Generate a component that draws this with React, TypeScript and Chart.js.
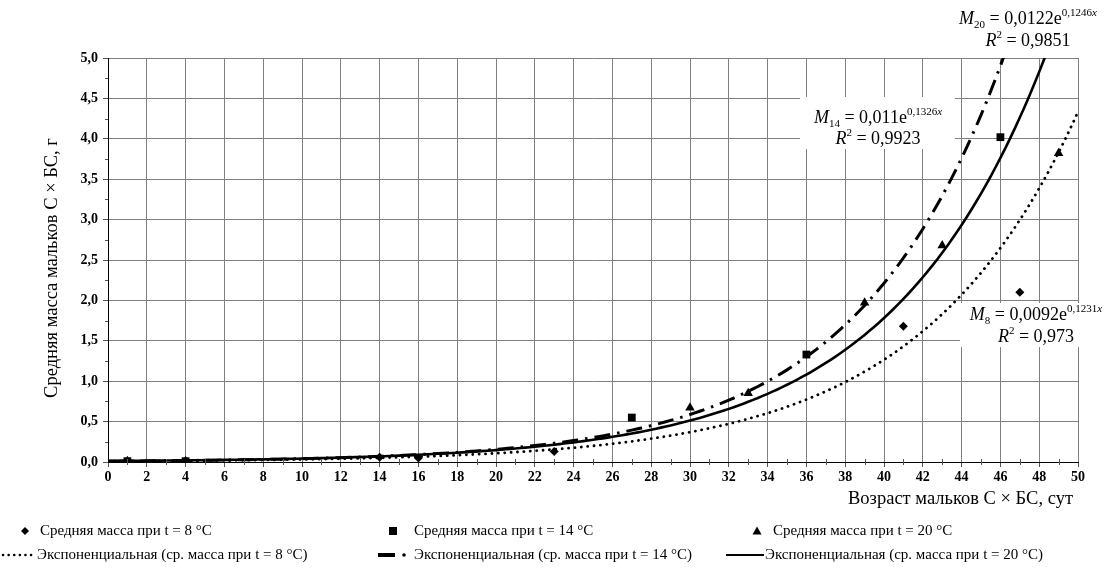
import React, { useEffect, useRef } from 'react';
import { Chart, registerables } from 'chart.js';

Chart.register(...registerables);

// ---- data ----
const ages8 = [1, 4, 14, 16, 23, 41, 47];
const mass8 = [0.01, 0.01, 0.06, 0.05, 0.13, 1.68, 2.1];
const ages14 = [1, 4, 27, 36, 46];
const mass14 = [0.01, 0.01, 0.55, 1.33, 4.02];
const ages20 = [1, 4, 30, 33, 39, 43, 49];
const mass20 = [0.01, 0.01, 0.67, 0.85, 1.97, 2.68, 3.82];

// exponential trendline coefficients shown on the chart (M = a·e^(b·x))
const trendA = [0.0092, 0.011, 0.0122];
const trendB = [0.1231, 0.1326, 0.1246];
const trendAText = ['0,0092', '0,011', '0,0122'];
const trendBText = ['0,1231', '0,1326', '0,1246'];
const trendR2Text = ['0,973', '0,9923', '0,9851'];
const trendSub = ['8', '14', '20'];

const legendPointLabels = [
  'Средняя масса при t = 8 °C',
  'Средняя масса при t = 14 °C',
  'Средняя масса при t = 20 °C',
];
const legendTrendLabels = [
  'Экспоненциальная (ср. масса при t = 8 °C)',
  'Экспоненциальная (ср. масса при t = 14 °C)',
  'Экспоненциальная (ср. масса при t = 20 °C)',
];
const xTitle = 'Возраст мальков С × БС, сут';
const yTitle = 'Средняя масса мальков С × БС, г';

const X_MIN = 0, X_MAX = 50, Y_MIN = 0, Y_MAX = 5;
const FAM = '"Liberation Serif", "Times New Roman", serif';

function pts(xs: number[], ys: number[]) {
  return xs.map((x, i) => ({ x, y: ys[i] }));
}
function trend(i: number) {
  const out: { x: number; y: number }[] = [];
  for (let k = 0; k <= 200; k++) {
    const x = X_MIN + (k * (X_MAX - X_MIN)) / 200;
    const y = trendA[i] * Math.exp(trendB[i] * x);
    out.push({ x, y });
    if (y > Y_MAX * 1.08) break;
  }
  return out;
}

type Part = { t: string; it?: boolean; sub?: boolean; sup?: boolean };
function drawEq(ctx: CanvasRenderingContext2D, cx: number, cy: number, parts: Part[], size: number) {
  const small = Math.round(size * 0.6);
  const fontOf = (p: Part) => `${p.it ? 'italic ' : ''}${p.sub || p.sup ? small : size}px ${FAM}`;
  let w = 0;
  for (const p of parts) {
    ctx.font = fontOf(p);
    w += ctx.measureText(p.t).width;
  }
  let x = cx - w / 2;
  const base = cy + size * 0.33;
  ctx.textAlign = 'left';
  ctx.textBaseline = 'alphabetic';
  ctx.fillStyle = '#000';
  for (const p of parts) {
    ctx.font = fontOf(p);
    const dy = p.sub ? size * 0.22 : p.sup ? -size * 0.42 : 0;
    ctx.fillText(p.t, x, base + dy);
    x += ctx.measureText(p.t).width;
  }
}
function eqParts(i: number): Part[][] {
  return [
    [
      { t: 'M', it: true },
      { t: trendSub[i], sub: true },
      { t: ' = ' + trendAText[i] + 'e' },
      { t: trendBText[i], sup: true },
      { t: 'x', sup: true, it: true },
    ],
    [{ t: 'R', it: true }, { t: '2', sup: true }, { t: ' = ' + trendR2Text[i] }],
  ];
}

const decorPlugin = {
  id: 'decor',
  beforeDatasetsDraw(chart: any) {
    const ctx = chart.ctx as CanvasRenderingContext2D;
    ctx.save();
    ctx.fillStyle = '#fff';
    // white label boxes (M14, M8)
    ctx.fillRect(800, 97, 155, 52);
    ctx.fillRect(960, 303, 150, 44);
    ctx.restore();
  },
  afterDraw(chart: any) {
    const ctx = chart.ctx as CanvasRenderingContext2D;
    const { left, bottom } = chart.chartArea;
    const xs = chart.scales.x, ys = chart.scales.y;
    ctx.save();
    // minor ticks
    ctx.strokeStyle = '#555';
    ctx.lineWidth = 1;
    ctx.beginPath();
    for (let v = X_MIN + 1; v < X_MAX; v += 2) {
      const px = Math.round(xs.getPixelForValue(v)) + 0.5;
      ctx.moveTo(px, bottom - 3);
      ctx.lineTo(px, bottom + 3);
    }
    for (let v = Y_MIN + 0.25; v < Y_MAX; v += 0.5) {
      const py = Math.round(ys.getPixelForValue(v)) + 0.5;
      ctx.moveTo(left - 3, py);
      ctx.lineTo(left, py);
    }
    ctx.stroke();

    // axis titles
    ctx.fillStyle = '#000';
    ctx.font = `18.5px ${FAM}`;
    ctx.textAlign = 'right';
    ctx.textBaseline = 'middle';
    ctx.fillText(xTitle, 1073, 499);
    ctx.save();
    ctx.translate(52, 268);
    ctx.rotate(-Math.PI / 2);
    ctx.textAlign = 'center';
    ctx.fillText(yTitle, 0, 0);
    ctx.restore();

    // equations
    const e20 = eqParts(2), e14 = eqParts(1), e8 = eqParts(0);
    drawEq(ctx, 1028, 18, e20[0], 18);
    drawEq(ctx, 1028, 40, e20[1], 18);
    drawEq(ctx, 878, 117, e14[0], 18);
    drawEq(ctx, 878, 138, e14[1], 18);
    drawEq(ctx, 1036, 314, e8[0], 18);
    drawEq(ctx, 1036, 336, e8[1], 18);

    // legend
    const r1 = 531, r2 = 555;
    ctx.font = `15px ${FAM}`;
    ctx.textAlign = 'left';
    ctx.textBaseline = 'middle';
    ctx.fillStyle = '#000';
    // row 1 markers
    ctx.beginPath();
    ctx.moveTo(25, r1 - 4); ctx.lineTo(29, r1); ctx.lineTo(25, r1 + 4); ctx.lineTo(21, r1); ctx.closePath();
    ctx.fill();
    ctx.fillRect(389, r1 - 4, 8, 8);
    ctx.beginPath();
    ctx.moveTo(757, r1 - 4.5); ctx.lineTo(761.5, r1 + 3.5); ctx.lineTo(752.5, r1 + 3.5); ctx.closePath();
    ctx.fill();
    ctx.fillText(legendPointLabels[0], 40, r1);
    ctx.fillText(legendPointLabels[1], 414, r1);
    ctx.fillText(legendPointLabels[2], 773, r1);
    // row 2 line samples
    ctx.strokeStyle = '#000';
    ctx.lineWidth = 2.5;
    ctx.lineCap = 'round';
    ctx.setLineDash([0.1, 5.5]);
    ctx.beginPath(); ctx.moveTo(3, r2); ctx.lineTo(35, r2); ctx.stroke();
    ctx.setLineDash([]);
    ctx.lineCap = 'butt';
    ctx.lineWidth = 4;
    ctx.beginPath(); ctx.moveTo(378, r2); ctx.lineTo(395, r2); ctx.stroke();
    ctx.beginPath(); ctx.arc(404, r2, 1.8, 0, Math.PI * 2); ctx.fill();
    ctx.lineWidth = 2;
    ctx.beginPath(); ctx.moveTo(726, r2); ctx.lineTo(764, r2); ctx.stroke();
    ctx.fillText(legendTrendLabels[0], 37, r2);
    ctx.fillText(legendTrendLabels[1], 414, r2);
    ctx.fillText(legendTrendLabels[2], 765, r2);
    ctx.restore();
  },
};

export default function App() {
  const ref = useRef<HTMLCanvasElement>(null);
  useEffect(() => {
    document.body.style.margin = '0';
    const tickFont = { family: FAM, size: 14, weight: 'bold' as const };
    const chart = new Chart(ref.current!, {
      type: 'scatter',
      data: {
        datasets: [
          { label: 't8', data: pts(ages8, mass8), pointStyle: 'rectRot', pointRadius: 4.5, backgroundColor: '#000', borderColor: '#000', borderWidth: 0, showLine: false, order: 0 },
          { label: 't14', data: pts(ages14, mass14), pointStyle: 'rect', pointRadius: 5.5, backgroundColor: '#000', borderColor: '#000', borderWidth: 0, showLine: false, order: 0 },
          { label: 't20', data: pts(ages20, mass20), pointStyle: 'triangle', pointRadius: 5.5, backgroundColor: '#000', borderColor: '#000', borderWidth: 0, showLine: false, order: 0 },
          { label: 'exp8', data: trend(0), showLine: true, pointRadius: 0, borderColor: '#000', borderWidth: 2.8, borderDash: [0.1, 6.3], borderCapStyle: 'round', tension: 0, order: 1 },
          { label: 'exp14', data: trend(1), showLine: true, pointRadius: 0, borderColor: '#000', borderWidth: 3, borderDash: [16, 7, 2.5, 7], borderCapStyle: 'butt', tension: 0, order: 1 },
          { label: 'exp20', data: trend(2), showLine: true, pointRadius: 0, borderColor: '#000', borderWidth: 2.6, tension: 0, order: 1 },
        ] as any,
      },
      plugins: [decorPlugin],
      options: {
        responsive: false,
        animation: false,
        devicePixelRatio: 1,
        layout: { padding: { top: 58, right: 32, bottom: 89, left: 0 } },
        plugins: { legend: { display: false }, tooltip: { enabled: false } },
        scales: {
          x: {
            type: 'linear',
            min: X_MIN,
            max: X_MAX,
            afterFit: (s: any) => { s.height = 30; },
            ticks: { stepSize: 2, font: tickFont, color: '#000', padding: 2, maxRotation: 0, autoSkip: false },
            grid: { color: '#808080', lineWidth: 1, tickLength: 5, tickColor: '#555' },
            border: { color: '#000', width: 1 },
          },
          y: {
            type: 'linear',
            min: Y_MIN,
            max: Y_MAX,
            afterFit: (s: any) => { s.width = 108; },
            ticks: {
              stepSize: 0.5,
              font: tickFont,
              color: '#000',
              padding: 5,
              callback: (v: any) => Number(v).toFixed(1).replace('.', ','),
            },
            grid: { color: '#808080', lineWidth: 1, tickLength: 5, tickColor: '#555' },
            border: { color: '#000', width: 1 },
          },
        },
      },
    });
    return () => chart.destroy();
  }, []);
  return (
    <div style={{ width: 1110, height: 581 }}>
      <canvas ref={ref} width={1110} height={581} style={{ display: 'block' }} />
    </div>
  );
}
